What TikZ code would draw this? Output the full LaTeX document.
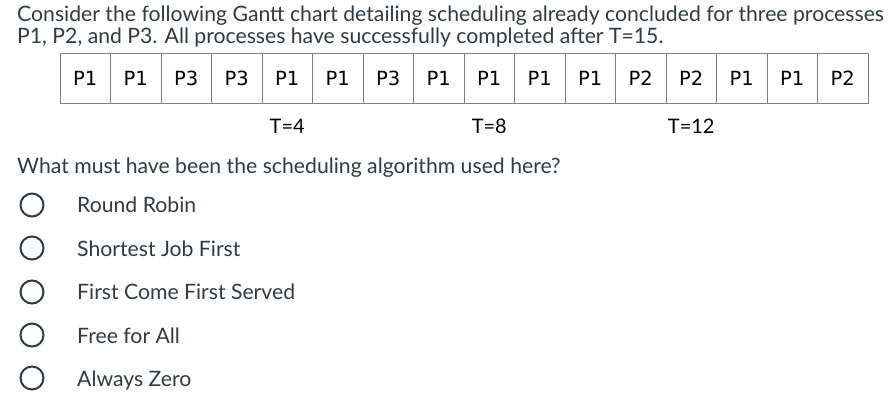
\documentclass[tikz,border=0pt]{standalone}
\usepackage{fontspec}
\setmainfont{Lato}
\newfontfamily\cellfont{DejaVu Sans}
\definecolor{inktext}{HTML}{2D3B45}
\tikzset{
  cell/.style={draw=gray, minimum width=50.5pt, minimum height=50pt, inner sep=0pt,
    font=\cellfont\fontsize{19.5}{22}\selectfont},
  tmark/.style={inner sep=0pt, font=\fontsize{20}{24}\selectfont},
  textline/.style={anchor=base west, inner sep=0pt, text=inktext, font=\fontsize{21.2}{25}\selectfont},
  radio/.style={draw=inktext, line width=2pt, circle, minimum size=23pt, inner sep=0pt},
}
\begin{document}
\begin{tikzpicture}[x=1pt,y=-1pt]
\useasboundingbox (0,0) rectangle (893,416);
\node[textline] (q1) at (17,21) {Consider the following Gantt chart detailing scheduling already concluded for three processes};
\node[textline] (q2) at (17,43) {P1, P2, and P3. All processes have successfully completed after T=15.};
% the chart
\node[cell] (c1) at (85.25,78) {P1};
\node[cell] (c2) at (135.75,78) {P1};
\node[cell] (c3) at (186.25,78) {P3};
\node[cell] (c4) at (236.75,78) {P3};
\node[cell] (c5) at (287.25,78) {P1};
\node[cell] (c6) at (337.75,78) {P1};
\node[cell] (c7) at (388.25,78) {P3};
\node[cell] (c8) at (438.75,78) {P1};
\node[cell] (c9) at (489.25,78) {P1};
\node[cell] (c10) at (539.75,78) {P1};
\node[cell] (c11) at (590.25,78) {P1};
\node[cell] (c12) at (640.75,78) {P2};
\node[cell] (c13) at (691.25,78) {P2};
\node[cell] (c14) at (741.75,78) {P1};
\node[cell] (c15) at (792.25,78) {P1};
\node[cell] (c16) at (842.75,78) {P2};
\node[tmark] (t4) at (287.25,126) {T=4};
\node[tmark] (t8) at (489.25,126) {T=8};
\node[tmark] (t12) at (691.25,126) {T=12};
% the question
\node[textline] (q3) at (17,173) {What must have been the scheduling algorithm used here?};
\node[radio] (r1) at (32,205) {};
\node[radio] (r2) at (32,248) {};
\node[radio] (r3) at (32,292) {};
\node[radio] (r4) at (32,335) {};
\node[radio] (r5) at (32,378) {};
\node[textline] (a1) at (77,212) {Round Robin};
\node[textline] (a2) at (77,256) {Shortest Job First};
\node[textline] (a3) at (77,299) {First Come First Served};
\node[textline] (a4) at (77,343) {Free for All};
\node[textline] (a5) at (77,386) {Always Zero};
\end{tikzpicture}
\end{document}
